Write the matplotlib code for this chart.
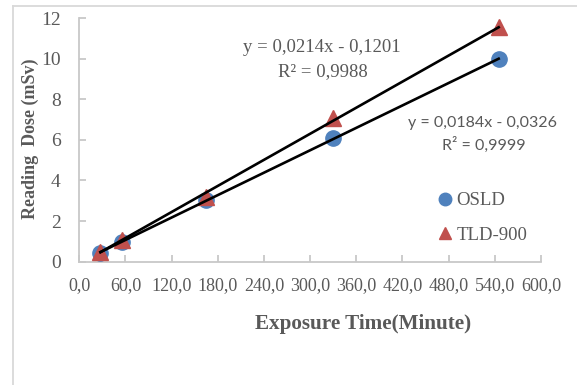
import matplotlib
matplotlib.use("Agg")
import matplotlib.pyplot as plt
import numpy as np
from matplotlib.lines import Line2D

# Data
time_min = [27.5, 55.0, 165.0, 330.0, 545.0]
osld = [0.45, 0.98, 3.05, 6.08, 9.98]
tld900 = [0.50, 1.05, 3.20, 7.08, 11.55]
osld_fit = [0.0184, -0.0326]
tld_fit = [0.0214, -0.1201]
xticks = [0, 60, 120, 180, 240, 300, 360, 420, 480, 540, 600]
xtick_labels = ["0,0", "60,0", "120,0", "180,0", "240,0", "300,0", "360,0", "420,0", "480,0", "540,0", "600,0"]
yticks = [0, 2, 4, 6, 8, 10, 12]

W, H = 577, 385
fig = plt.figure(figsize=(W / 100, H / 100), dpi=100)
serif = "Liberation Serif"
sans = "Lato"
gray = "#595959"
axcol = "#c8c8c8"

ax = fig.add_axes([79.3 / W, 1 - 261.7 / H, (541 - 79.3) / W, (261.7 - 18) / H])
ax.set_xlim(0, 600)
ax.set_ylim(0, 12)

blue = "#4F81BD"
red = "#C0504D"
ax.plot(time_min, osld, "o", color=blue, markersize=11, zorder=3, label="OSLD", clip_on=False)
ax.plot(time_min, tld900, "^", color=red, markersize=11, zorder=3, label="TLD-900", clip_on=False)

xf = np.array([min(time_min), max(time_min)])
ax.plot(xf, np.polyval(osld_fit, xf), color="black", lw=1.9, zorder=4)
ax.plot(xf, np.polyval(tld_fit, xf), color="black", lw=1.9, zorder=4)

for s in ["top", "right"]:
    ax.spines[s].set_visible(False)
for s in ["left", "bottom"]:
    ax.spines[s].set_color(axcol)
    ax.spines[s].set_linewidth(1.3)

ax.set_xticks(xticks)
ax.set_xticklabels(xtick_labels)
ax.set_yticks(yticks)
ax.tick_params(direction="in", length=5, width=1.3, color=axcol, labelcolor=gray)
ax.tick_params(axis="x", labelsize=13, pad=11)
ax.tick_params(axis="y", labelsize=14, pad=13.5)
for lbl in ax.get_xticklabels() + ax.get_yticklabels():
    lbl.set_fontfamily(serif)

fig.text(30 / W, 1 - 139 / H, "Reading  Dose (mSv)", rotation=90, ha="center", va="center",
         fontsize=13, fontweight="bold", color=gray, family=serif)
fig.text(363.5 / W, 1 - 324 / H, "Exposure Time(Minute)", ha="center", va="center",
         fontsize=15.2, fontweight="bold", color=gray, family=serif)

fig.text(322 / W, 1 - 47 / H, "y = 0,0214x - 0,1201", ha="center", va="center",
         fontsize=13.5, color=gray, family=serif)
fig.text(323 / W, 1 - 72 / H, "R² = 0,9988", ha="center", va="center",
         fontsize=13.5, color=gray, family=serif)
fig.text(483 / W, 1 - 123 / H, "y = 0,0184x - 0,0326", ha="center", va="center",
         fontsize=11.5, color=gray, family=sans)
fig.text(484 / W, 1 - 145 / H, "R² = 0,9999", ha="center", va="center",
         fontsize=11.5, color=gray, family=sans)

handles = [Line2D([], [], ls="none", marker="o", color=blue, markersize=9),
           Line2D([], [], ls="none", marker="^", color=red, markersize=9)]
leg = fig.legend(handles, ["OSLD", "TLD-900"], loc="center left",
                 bbox_to_anchor=(434 / W, 1 - 218 / H), frameon=False,
                 handletextpad=0.0, handlelength=1.2, labelspacing=0.95,
                 prop={"family": serif, "size": 13.5}, borderpad=0, borderaxespad=0)
for t in leg.get_texts():
    t.set_color(gray)

# outer chart border
fig.add_artist(Line2D([12.5 / W, 12.5 / W], [0, 1 - 6 / H], transform=fig.transFigure, color="#d9d9d9", lw=1.3))
fig.add_artist(Line2D([12.5 / W, 1], [1 - 6 / H, 1 - 6 / H], transform=fig.transFigure, color="#d9d9d9", lw=1.3))

fig.savefig("out.png", dpi=100)
